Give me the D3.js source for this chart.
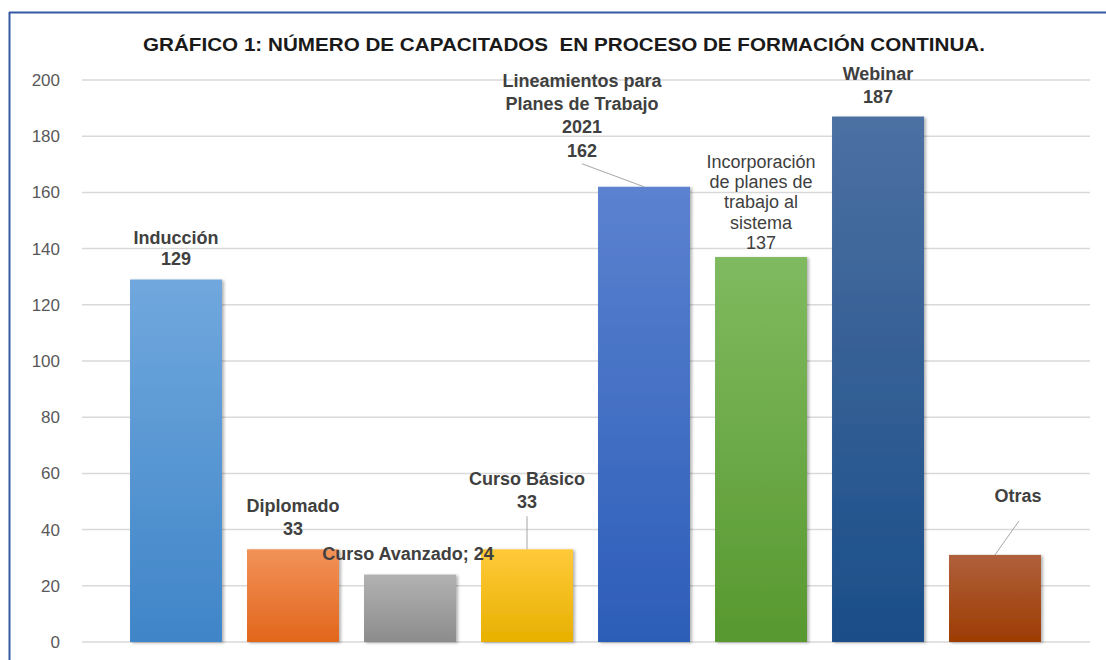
<!DOCTYPE html>
<html>
<head>
<meta charset="utf-8">
<script src="https://cdn.jsdelivr.net/npm/d3@7/dist/d3.min.js"></script>
<style>
  html, body { margin: 0; padding: 0; background: #fff; }
  text { font-family: "Liberation Sans", Arial, sans-serif; }
</style>
</head>
<body>
<div class="chartWrapper"></div>
<script>
"use strict";

var titleText = "GRÁFICO 1: NÚMERO DE CAPACITADOS  EN PROCESO DE FORMACIÓN CONTINUA.";
var categories = ["Inducción", "Diplomado", "Curso Avanzado", "Curso Básico",
  "Lineamientos para Planes de Trabajo 2021", "Incorporación de planes de trabajo al sistema",
  "Webinar", "Otras"];
var values = [129, 33, 24, 33, 162, 137, 187, 31];
var labelLines = [
  ["Inducción", "129"],
  ["Diplomado", "33"],
  ["Curso Avanzado; 24"],
  ["Curso Básico", "33"],
  ["Lineamientos para", "Planes de Trabajo", "2021", "162"],
  ["Incorporación", "de planes de", "trabajo al", "sistema", "137"],
  ["Webinar", "187"],
  ["Otras"]
];
var yTicks = [0, 20, 40, 60, 80, 100, 120, 140, 160, 180, 200];

// bar gradients (top, bottom)
var barTop = ["#70a8dd", "#f29258", "#b2b2b2", "#ffca3a", "#5b82d0", "#80ba60", "#4c70a2", "#b0603c"];
var barBottom = ["#3f85c8", "#e2661c", "#8c8c8c", "#e8b000", "#2c5db8", "#58982f", "#1b4e88", "#9c3c02"];

// label layout: x shift, baseline of last line above bar top, line height, weight
var labelDx = [0, 0, -2, 0, -62, 0, 0, 23];
var labelDy = [-15, -14, -15, -41, -30, -8, -14, -53];
var lineH = [21, 23, 0, 23, 23.3, 20.3, 23, 0];
var labelWeight = ["bold", "bold", "bold", "bold", "bold", "normal", "bold", "bold"];
var leaderStart = [null, null, null, [0, 8], [0, 7], null, null, [1, 19]];

var width = 1106;
var height = 660;

var svg = d3.select(".chartWrapper").append("svg")
  .attr("width", width).attr("height", height);

var defs = svg.append("defs");
var shadow = defs.append("filter").attr("id", "shadow")
  .attr("x", "-10%").attr("y", "-10%").attr("width", "130%").attr("height", "130%");
shadow.append("feDropShadow").attr("dx", 2).attr("dy", 1)
  .attr("stdDeviation", 1.5).attr("flood-color", "#000").attr("flood-opacity", 0.3);

categories.forEach(function (c, i) {
  var g = defs.append("linearGradient").attr("id", "grad" + i)
    .attr("x1", 0).attr("y1", 0).attr("x2", 0).attr("y2", 1);
  g.append("stop").attr("offset", "0%").attr("stop-color", barTop[i]);
  g.append("stop").attr("offset", "100%").attr("stop-color", barBottom[i]);
});

var x = d3.scaleBand().domain(categories).range([117.5, 1053.5])
  .paddingInner(0.214).paddingOuter(0.107);
var y = d3.scaleLinear().domain([0, 200]).range([642, 80]);

// frame
svg.append("line").attr("x1", 9).attr("x2", width).attr("y1", 12.5).attr("y2", 12.5)
  .attr("stroke", "#3559a3").attr("stroke-width", 2);
svg.append("line").attr("x1", 9.5).attr("x2", 9.5).attr("y1", 12).attr("y2", height)
  .attr("stroke", "#3559a3").attr("stroke-width", 2);

svg.append("text").attr("x", 564).attr("y", 51)
  .attr("text-anchor", "middle")
  .style("white-space", "pre")
  .attr("font-size", 19).attr("font-weight", "bold").attr("fill", "#1a1a1a")
  .attr("textLength", 842).attr("lengthAdjust", "spacingAndGlyphs")
  .text(titleText);

// grid + y axis labels
var grid = svg.append("g").attr("class", "grid");
grid.selectAll("line").data(yTicks).enter().append("line")
  .attr("x1", 82).attr("x2", 1090)
  .attr("y1", function (d) { return y(d); })
  .attr("y2", function (d) { return y(d); })
  .attr("stroke", "#d9d9d9").attr("stroke-width", 1.5);
grid.selectAll("text").data(yTicks).enter().append("text")
  .attr("x", 60).attr("y", function (d) { return y(d) + 6; })
  .attr("text-anchor", "end")
  .attr("font-size", 17).attr("fill", "#595959")
  .text(function (d) { return d; });

// bars
svg.append("g").selectAll("rect").data(values).enter().append("rect")
  .attr("x", function (d, i) { return x(categories[i]); })
  .attr("y", function (d) { return y(d); })
  .attr("width", x.bandwidth())
  .attr("height", function (d) { return y(0) - y(d); })
  .attr("fill", function (d, i) { return "url(#grad" + i + ")"; })
  .attr("filter", "url(#shadow)");

// leader lines
var leaders = svg.append("g");
values.forEach(function (v, i) {
  if (!leaderStart[i]) return;
  var cx = x(categories[i]) + x.bandwidth() / 2;
  var lx = cx + labelDx[i] + leaderStart[i][0];
  var ly = y(v) + labelDy[i] + leaderStart[i][1];
  leaders.append("line")
    .attr("x1", lx).attr("y1", ly)
    .attr("x2", cx).attr("y2", y(v))
    .attr("stroke", "#a6a6a6").attr("stroke-width", 1);
});

// data labels
var labels = svg.append("g");
values.forEach(function (v, i) {
  var cx = x(categories[i]) + x.bandwidth() / 2 + labelDx[i];
  var lastY = y(v) + labelDy[i];
  var lines = labelLines[i];
  var t = labels.append("text")
    .attr("text-anchor", "middle")
    .attr("font-size", 18)
    .attr("font-weight", labelWeight[i])
    .attr("fill", "#404040");
  lines.forEach(function (s, j) {
    t.append("tspan").attr("x", cx)
      .attr("y", lastY - (lines.length - 1 - j) * lineH[i])
      .text(s);
  });
});
</script>
</body>
</html>
